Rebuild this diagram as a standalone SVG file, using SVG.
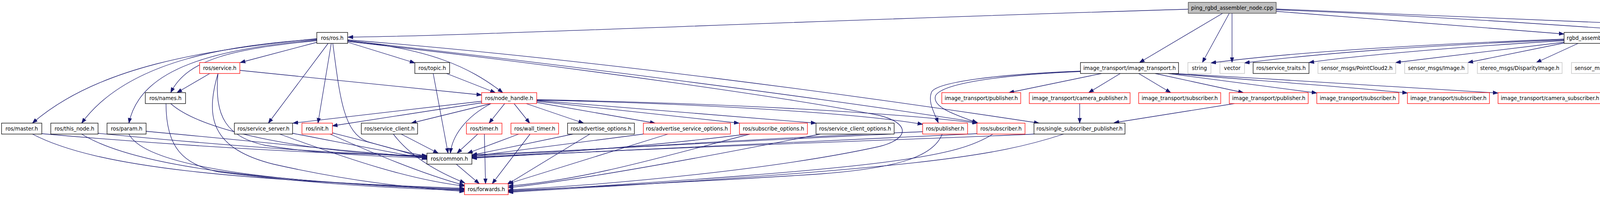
<svg xmlns="http://www.w3.org/2000/svg" width="5620" height="504" viewBox="0 0 5620 504">
<style>
.bg{fill:#ffffff}
.e path{fill:none;stroke:#191970;stroke-width:1.3;marker-end:url(#ah)}
.n rect{fill:#ffffff;stroke:#000000;stroke-width:1.3}
.n.root rect{fill:#bfbfbf;stroke:#404040}
.n.red rect{stroke:#ff0000}
.n.gray rect{stroke:#bfbfbf}
.n text{font-family:"DejaVu Sans","Liberation Sans",sans-serif;font-size:13.33px;fill:#000000;text-anchor:middle}
</style>
<defs>
<marker id="ah" markerUnits="userSpaceOnUse" markerWidth="14" markerHeight="10" refX="13" refY="5" orient="auto" viewBox="0 0 14 10">
<path d="M0,0.3 L13,5 L0,9.7 z" fill="#191970" stroke="#191970" stroke-width="1"/>
</marker>
</defs>
<rect class="bg" x="0" y="0" width="5620" height="504"/>
<g id="connectors" class="e">
<path d="M3042,23.5 C2000,55 1200,92 891,95"/>
<path d="M3130,34 L2917,160"/>
<path d="M3147,34 L3078,160"/>
<path d="M3154,34 L3154,160"/>
<path d="M3267,29 L4004,87"/>
<path d="M3267,25 C3700,42 4100,72 4260,83"/>
<path d="M3267,23 C3900,45 4500,78 4948,93"/>
<path d="M811,99 C520,128 250,170 83,315"/>
<path d="M811,100 C600,115 330,150 209,315"/>
<path d="M811,102 C560,125 360,170 330,315"/>
<path d="M811,104 C600,125 480,150 437,237"/>
<path d="M812,108 L615,160"/>
<path d="M840,111 L687,315"/>
<path d="M848,111 L814,315"/>
<path d="M852,111 C870,250 880,340 940,362 C1000,380 1060,395 1093,399"/>
<path d="M890,108 L1062,161"/>
<path d="M890,104 C1100,125 1200,170 1287,237"/>
<path d="M890,102 C1500,150 2200,245 2660,315"/>
<path d="M890,104 C1400,160 2100,250 2502,313"/>
<path d="M890,106 C1500,175 2050,255 2250,295 C2330,315 2330,355 2250,375 C2000,430 1600,470 1301,486"/>
<path d="M537,188 L453,237"/>
<path d="M614,180 L1233,243"/>
<path d="M558,188 C548,300 580,350 680,372 C800,392 950,400 1093,404"/>
<path d="M558,188 C525,300 540,380 700,420 C900,465 1050,480 1189,490"/>
<path d="M1143,188 L1268,237"/>
<path d="M1109,188 L1147,392"/>
<path d="M437,265 C520,340 800,390 1093,402"/>
<path d="M425,265 C425,380 470,420 560,440 C800,470 1000,482 1189,487"/>
<path d="M1233,259 L750,315"/>
<path d="M1233,263 L851,322"/>
<path d="M1257,265 L1053,315"/>
<path d="M1257,265 C1190,300 1157,350 1153,392"/>
<path d="M1292,265 L1252,315"/>
<path d="M1316,265 L1356,315"/>
<path d="M1347,265 L1494,315"/>
<path d="M1374,262 L1677,315"/>
<path d="M1374,259 L1892,315"/>
<path d="M1374,257 L2089,315"/>
<path d="M1374,256 C1800,265 2200,290 2362,318"/>
<path d="M1374,255 C1900,265 2300,290 2502,315"/>
<path d="M107,342 C400,368 800,395 1093,398"/>
<path d="M83,343 C250,430 600,460 1189,482"/>
<path d="M251,341 C600,375 900,395 1093,400"/>
<path d="M209,343 C350,430 700,465 1189,484"/>
<path d="M374,336 C700,365 950,395 1093,401"/>
<path d="M330,343 C380,440 800,470 1189,486"/>
<path d="M749,341 C900,370 1000,390 1093,406"/>
<path d="M716,343 C900,410 1050,460 1189,476"/>
<path d="M851,340 C950,365 1030,385 1093,408"/>
<path d="M845,343 C950,390 1080,445 1189,474"/>
<path d="M1027,343 L1122,392"/>
<path d="M1007,343 C1050,400 1120,440 1190,468"/>
<path d="M1223,343 L1170,392"/>
<path d="M1240,343 L1243,470"/>
<path d="M1328,343 L1197,392"/>
<path d="M1357,343 L1260,470"/>
<path d="M1168,420 L1227,470"/>
<path d="M1467,343 L1208,397"/>
<path d="M1510,343 L1298,472"/>
<path d="M1647,343 L1208,400"/>
<path d="M1710,343 L1301,470"/>
<path d="M1913,343 C1700,370 1400,395 1208,402"/>
<path d="M1920,343 C1700,400 1500,460 1301,476"/>
<path d="M2280,343 C1900,360 1500,385 1208,396"/>
<path d="M2100,343 C1900,383 1500,460 1301,480"/>
<path d="M2362,337 C2000,350 1500,385 1208,399"/>
<path d="M2412,343 C2390,400 2300,430 2100,445 C1800,465 1500,478 1301,488"/>
<path d="M2501,342 C2200,355 1600,385 1208,403"/>
<path d="M2542,343 C2450,400 2300,430 1301,490"/>
<path d="M2647,343 C2400,355 1600,380 1208,405"/>
<path d="M2723,343 C2550,400 2350,432 1301,492"/>
<path d="M2820,188 L2583,237"/>
<path d="M2868,188 L2787,237"/>
<path d="M2766,182 C2550,190 2400,210 2385,235 C2375,260 2390,285 2402,314"/>
<path d="M2766,183 C2550,192 2410,215 2395,245 C2385,275 2450,295 2502,314"/>
<path d="M2915,188 L2997,237"/>
<path d="M2957,188 L3183,237"/>
<path d="M2990,188 C3150,210 3300,228 3371,238"/>
<path d="M3000,188 C3200,205 3450,222 3603,238"/>
<path d="M3005,188 C3300,205 3650,225 3835,238"/>
<path d="M2764,265 L2764,315"/>
<path d="M3160,265 L2852,314"/>
<path d="M4004,100 C3600,115 3300,135 3100,161"/>
<path d="M4004,102 C3600,118 3350,140 3186,161"/>
<path d="M4004,104 C3700,122 3450,145 3351,160"/>
<path d="M4004,108 L3573,160"/>
<path d="M4004,110 L3758,160"/>
<path d="M4040,111 L3933,160"/>
<path d="M4121,111 L4121,160"/>
<path d="M4148,111 L4245,161"/>
<path d="M4165,111 L4318,161"/>
<path d="M4188,111 L4418,161"/>
<path d="M4225,111 L4577,160"/>
<path d="M4238,109 C4450,130 4650,148 4801,162"/>
<path d="M4238,110 C4600,128 4900,125 5016,161"/>
<path d="M4238,109 C4700,126 5000,125 5127,161"/>
<path d="M4238,108 C4700,124 5050,130 5257,161"/>
<path d="M5115,111 L5404,160"/>
</g>
<g id="n_ping" class="n root"><rect x="3042" y="6" width="225" height="28"/><text x="3154.5" y="24.5">ping_rgbd_assembler_node.cpp</text></g>
<g id="n_ros" class="n"><rect x="811" y="83" width="79" height="28"/><text x="850.5" y="101.5">ros/ros.h</text></g>
<g id="n_rgbd" class="n"><rect x="4004" y="83" width="234" height="28"/><text x="4121" y="101.5">rgbd_assembler/RgbdAssembly.h</text></g>
<g id="n_marker" class="n gray"><rect x="4260" y="83" width="202" height="28"/><text x="4361" y="101.5">visualization_msgs/Marker.h</text></g>
<g id="n_utils" class="n"><rect x="4948" y="83" width="167" height="28"/><text x="5031.5" y="101.5">rgbd_assembler/utils.h</text></g>
<g id="n_service" class="n red"><rect x="511" y="160" width="103" height="28"/><text x="562.5" y="178.5">ros/service.h</text></g>
<g id="n_topic" class="n"><rect x="1062" y="160" width="89" height="28"/><text x="1106.5" y="178.5">ros/topic.h</text></g>
<g id="n_it" class="n"><rect x="2766" y="160" width="251" height="28"/><text x="2891.5" y="178.5">image_transport/image_transport.h</text></g>
<g id="n_string" class="n gray"><rect x="3041" y="160" width="59" height="28"/><text x="3070.5" y="178.5">string</text></g>
<g id="n_vector" class="n gray"><rect x="3123" y="160" width="63" height="28"/><text x="3154.5" y="178.5">vector</text></g>
<g id="n_srvtraits" class="n"><rect x="3208" y="160" width="143" height="28"/><text x="3279.5" y="178.5">ros/service_traits.h</text></g>
<g id="n_pc2" class="n gray"><rect x="3374" y="160" width="199" height="28"/><text x="3473.5" y="178.5">sensor_msgs/PointCloud2.h</text></g>
<g id="n_image" class="n gray"><rect x="3596" y="160" width="162" height="28"/><text x="3677" y="178.5">sensor_msgs/Image.h</text></g>
<g id="n_disp" class="n gray"><rect x="3782" y="160" width="217" height="28"/><text x="3890.5" y="178.5">stereo_msgs/DisparityImage.h</text></g>
<g id="n_caminfo" class="n gray"><rect x="4023" y="160" width="197" height="28"/><text x="4121.5" y="178.5">sensor_msgs/CameraInfo.h</text></g>
<g id="n_map" class="n gray"><rect x="4244" y="160" width="51" height="28"/><text x="4269.5" y="178.5">map</text></g>
<g id="n_ostream" class="n gray"><rect x="4318" y="160" width="76" height="28"/><text x="4356" y="178.5">ostream</text></g>
<g id="n_serial" class="n red"><rect x="4416" y="160" width="135" height="28"/><text x="4483.5" y="178.5">ros/serialization.h</text></g>
<g id="n_builtin" class="n red"><rect x="4574" y="160" width="203" height="28"/><text x="4675.5" y="178.5">ros/builtin_message_traits.h</text></g>
<g id="n_msgops" class="n"><rect x="4801" y="160" width="192" height="28"/><text x="4897" y="178.5">ros/message_operations.h</text></g>
<g id="n_time" class="n red"><rect x="5016" y="160" width="87" height="28"/><text x="5059.5" y="178.5">ros/time.h</text></g>
<g id="n_macros" class="n"><rect x="5127" y="160" width="106" height="28"/><text x="5180" y="178.5">ros/macros.h</text></g>
<g id="n_assert" class="n red"><rect x="5257" y="160" width="99" height="28"/><text x="5306.5" y="178.5">ros/assert.h</text></g>
<g id="n_enc" class="n"><rect x="5380" y="160" width="235" height="28"/><text x="5497.5" y="178.5">sensor_msgs/image_encodings.h</text></g>
<g id="n_names" class="n"><rect x="372" y="237" width="103" height="28"/><text x="423.5" y="255.5">ros/names.h</text></g>
<g id="n_nh" class="n red"><rect x="1233" y="237" width="141" height="28"/><text x="1303.5" y="255.5">ros/node_handle.h</text></g>
<g id="n_itpub1" class="n red"><rect x="2411" y="237" width="202" height="28"/><text x="2512" y="255.5">image_transport/publisher.h</text></g>
<g id="n_campub" class="n red"><rect x="2635" y="237" width="258" height="28"/><text x="2764" y="255.5">image_transport/camera_publisher.h</text></g>
<g id="n_itsub1" class="n red"><rect x="2915" y="237" width="210" height="28"/><text x="3020" y="255.5">image_transport/subscriber.h</text></g>
<g id="n_itpub2" class="n red"><rect x="3147" y="237" width="202" height="28"/><text x="3248" y="255.5">image_transport/publisher.h</text></g>
<g id="n_itsub2" class="n red"><rect x="3371" y="237" width="210" height="28"/><text x="3476" y="255.5">image_transport/subscriber.h</text></g>
<g id="n_itsub3" class="n red"><rect x="3603" y="237" width="210" height="28"/><text x="3708" y="255.5">image_transport/subscriber.h</text></g>
<g id="n_camsub" class="n red"><rect x="3835" y="237" width="266" height="28"/><text x="3968" y="255.5">image_transport/camera_subscriber.h</text></g>
<g id="n_master" class="n"><rect x="4" y="315" width="103" height="28"/><text x="55.5" y="333.5">ros/master.h</text></g>
<g id="n_thisnode" class="n"><rect x="130" y="315" width="121" height="28"/><text x="190.5" y="333.5">ros/this_node.h</text></g>
<g id="n_param" class="n"><rect x="274" y="315" width="100" height="28"/><text x="324" y="333.5">ros/param.h</text></g>
<g id="n_srvserver" class="n"><rect x="600" y="315" width="149" height="28"/><text x="674.5" y="333.5">ros/service_server.h</text></g>
<g id="n_init" class="n red"><rect x="773" y="315" width="78" height="28"/><text x="812" y="333.5">ros/init.h</text></g>
<g id="n_srvclient" class="n"><rect x="925" y="315" width="144" height="28"/><text x="997" y="333.5">ros/service_client.h</text></g>
<g id="n_timer" class="n red"><rect x="1194" y="315" width="91" height="28"/><text x="1239.5" y="333.5">ros/timer.h</text></g>
<g id="n_walltimer" class="n red"><rect x="1308" y="315" width="122" height="28"/><text x="1369" y="333.5">ros/wall_timer.h</text></g>
<g id="n_advopts" class="n"><rect x="1453" y="315" width="171" height="28"/><text x="1538.5" y="333.5">ros/advertise_options.h</text></g>
<g id="n_advsrvopts" class="n red"><rect x="1647" y="315" width="223" height="28"/><text x="1758.5" y="333.5">ros/advertise_service_options.h</text></g>
<g id="n_subopts" class="n red"><rect x="1893" y="315" width="174" height="28"/><text x="1980" y="333.5">ros/subscribe_options.h</text></g>
<g id="n_srvcliopts" class="n"><rect x="2089" y="315" width="200" height="28"/><text x="2189" y="333.5">ros/service_client_options.h</text></g>
<g id="n_pub" class="n red"><rect x="2362" y="315" width="115" height="28"/><text x="2419.5" y="333.5">ros/publisher.h</text></g>
<g id="n_sub" class="n red"><rect x="2501" y="315" width="123" height="28"/><text x="2562.5" y="333.5">ros/subscriber.h</text></g>
<g id="n_ssp" class="n"><rect x="2647" y="315" width="233" height="28"/><text x="2763.5" y="333.5">ros/single_subscriber_publisher.h</text></g>
<g id="n_common" class="n"><rect x="1093" y="392" width="115" height="28"/><text x="1150.5" y="410.5">ros/common.h</text></g>
<g id="n_forwards" class="n red"><rect x="1189" y="470" width="112" height="28"/><text x="1245" y="488.5">ros/forwards.h</text></g>
</svg>
